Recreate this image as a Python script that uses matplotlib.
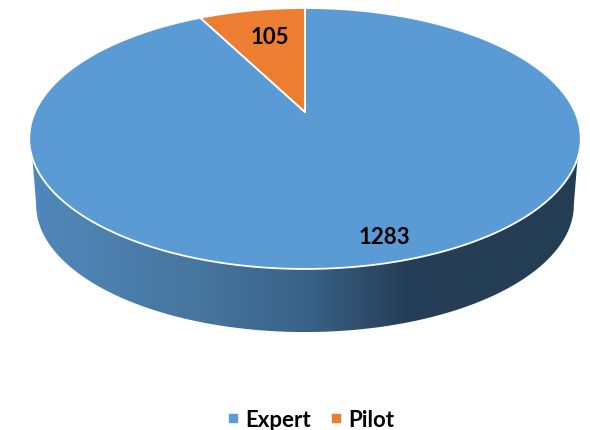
#!/usr/bin/env python3
"""Tilted 3D-style pie chart of Expert vs Pilot counts."""

import numpy as np
import matplotlib
matplotlib.use("Agg")
import matplotlib.pyplot as plt
from matplotlib.colors import LinearSegmentedColormap
from matplotlib.lines import Line2D
from matplotlib.patches import Polygon

categories = ["Expert", "Pilot"]
values = [1283, 105]
colors = ["#5B9BD5", "#ED7D31"]

plt.rcParams["font.family"] = ["Lato", "DejaVu Sans"]

# pie geometry in image pixels, PERSP gives the perspective squeeze at the far side
APEX_X, APEX_Y = 305, 113
HALF_W, HALF_H = 270, 125.1
PERSP = 0.203
BASE_SCALE = 0.975
BASE_Y = 180

WALL_CMAP = LinearSegmentedColormap.from_list(
    "wall",
    [(0.0, "#5088BC"), (0.3, "#47769F"), (0.5, "#3A6288"),
     (0.68, "#263F58"), (1.0, "#233D52")],
)


def project(theta, scale=1.0, y0=APEX_Y):
    """Map clockwise angles from 12 o'clock on the unit disc to the tilted disc."""
    u, v = np.sin(theta), np.cos(theta)
    d = 1 + PERSP * v
    return APEX_X + scale * HALF_W * u / d, y0 - scale * HALF_H * v / d


def sector(start, end):
    theta = np.linspace(start, end, 300)
    x, y = project(theta)
    return np.column_stack([np.r_[APEX_X, x], np.r_[APEX_Y, y]])


fig = plt.figure(figsize=(5.9, 4.31), dpi=100)
ax = fig.add_axes([0, 0, 1, 1])
ax.set_xlim(0, 590)
ax.set_ylim(431, 0)
ax.axis("off")

# side wall: gradient clipped to the lower rim of the base
theta = np.linspace(np.pi / 2 + 0.2, 3 * np.pi / 2 - 0.2, 400)
bx, by = project(theta, BASE_SCALE, BASE_Y)
tx_l, ty_l = project(np.array([3 * np.pi / 2 - 0.35]))
tx_r, ty_r = project(np.array([np.pi / 2 + 0.35]))
wall_pts = np.column_stack([
    np.r_[tx_r, bx, tx_l],
    np.r_[ty_r, by, ty_l],
])
wall = Polygon(wall_pts, closed=True, facecolor="none", edgecolor="none")
ax.add_patch(wall)
gradient = np.linspace(0, 1, 552).reshape(1, -1)
img = ax.imshow(gradient, cmap=WALL_CMAP, extent=(29, 581, 340, 130),
                aspect="auto", zorder=1)
img.set_clip_path(wall)
ax.set_xlim(0, 590)
ax.set_ylim(431, 0)

# top face, slices run counter-clockwise from 12 o'clock starting with Pilot
total = sum(values)
pilot_sweep = 2 * np.pi * values[1] / total
ax.add_patch(Polygon(sector(0, 2 * np.pi - pilot_sweep), closed=True,
                     facecolor=colors[0], edgecolor="white", lw=1.3,
                     joinstyle="round", zorder=2))
ax.add_patch(Polygon(sector(2 * np.pi - pilot_sweep, 2 * np.pi), closed=True,
                     facecolor=colors[1], edgecolor="white", lw=1.3,
                     joinstyle="round", zorder=3))

ax.text(270, 38, str(values[1]), fontsize=16, fontweight="bold", color="black",
        ha="center", va="center", zorder=4)
ax.text(384, 238, str(values[0]), fontsize=16, fontweight="bold", color="black",
        ha="center", va="center", zorder=4)

handles = [Line2D([], [], linestyle="none", marker="s", markersize=5.5,
                  color=c, label=name) for c, name in zip(colors, categories)]
leg = ax.legend(handles=handles, ncol=2, loc="center",
                bbox_to_anchor=(311 / 590, 1 - 420.5 / 431),
                frameon=False, prop={"weight": "bold", "size": 16},
                handlelength=0.5, handletextpad=0.3, columnspacing=0.88,
                borderpad=0)

fig.savefig("out.png", dpi=100)
